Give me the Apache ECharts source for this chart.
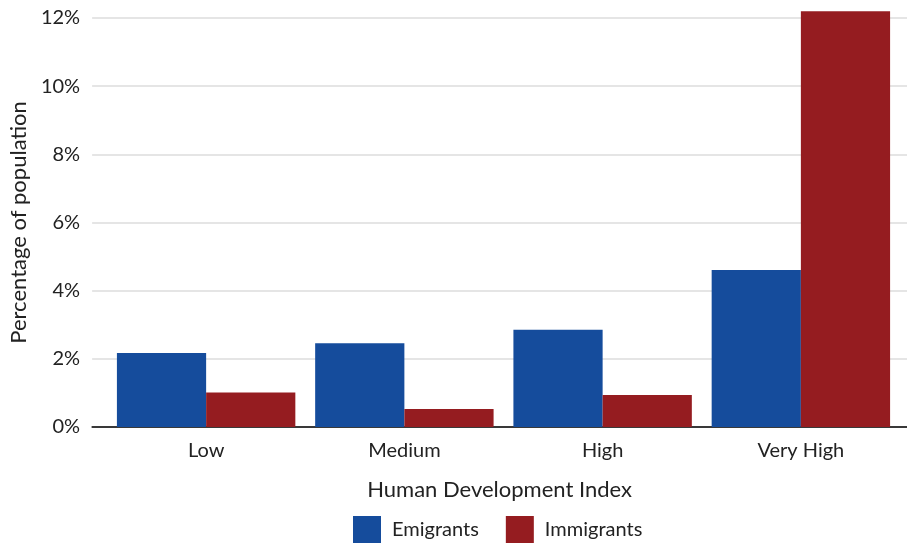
<!DOCTYPE html>
<html>
<head>
<meta charset="utf-8">
<script src="https://cdn.jsdelivr.net/npm/echarts@6/dist/echarts.min.js"></script>
<style>html,body{margin:0;padding:0;background:#fff}#c{width:907px;height:545px}</style>
</head>
<body>
<div id="c"></div>
<script>
const categories = ['Low', 'Medium', 'High', 'Very High'];
const emigrants = [2.17, 2.46, 2.85, 4.61];
const immigrants = [1.01, 0.53, 0.94, 12.2];
const yTicks = [0, 2, 4, 6, 8, 10, 12];

const FONT = 'Lato';
const TXT = '#222';
const chart = echarts.init(document.getElementById('c'));
chart.setOption({
  animation: false,
  textStyle: { fontFamily: FONT },
  grid: [
    { left: 87, right: 0, top: 18, bottom: 118 },
    { left: 107, right: 7, top: 18, bottom: 118 }
  ],
  legend: {
    top: 516, left: 353, padding: 0,
    icon: 'rect',
    itemWidth: 28, itemHeight: 27, itemGap: 27,
    textStyle: { fontFamily: FONT, fontSize: 20, color: TXT, padding: [0, 0, 0, 6] },
    data: ['Emigrants', 'Immigrants']
  },
  xAxis: [
    { gridIndex: 0, type: 'category', data: categories, axisLabel: { show: false }, axisTick: { show: false },
      axisLine: { lineStyle: { color: '#000', width: 1.5 } }, splitLine: { show: false },
      name: 'Human Development Index', nameLocation: 'middle', nameGap: 52,
      nameTextStyle: { fontFamily: FONT, fontSize: 22, color: TXT } },
    { gridIndex: 1, type: 'category', data: categories,
      axisLine: { show: false },
      axisTick: { alignWithLabel: true, length: 6, lineStyle: { color: '#000' } },
      axisLabel: { fontFamily: FONT, fontSize: 20, color: TXT, margin: 14 } }
  ],
  yAxis: [
    { gridIndex: 0, type: 'value', min: yTicks[0], max: yTicks[yTicks.length - 1], interval: 2,
      axisLine: { show: false }, axisTick: { show: false },
      axisLabel: { formatter: '{value}%', fontFamily: FONT, fontSize: 20, color: TXT, margin: 12 },
      splitLine: { lineStyle: { color: '#dcdcdc', width: 1.5 } },
      name: 'Percentage of population', nameLocation: 'middle', nameGap: 62,
      nameTextStyle: { fontFamily: FONT, fontSize: 22, color: TXT } },
    { gridIndex: 1, type: 'value', min: yTicks[0], max: yTicks[yTicks.length - 1], interval: 2,
      show: false, splitLine: { show: false } }
  ],
  series: [
    { name: 'Emigrants', type: 'bar', xAxisIndex: 1, yAxisIndex: 1, data: emigrants,
      barGap: '0%', barCategoryGap: '10%', clip: false, itemStyle: { color: '#154c9c' } },
    { name: 'Immigrants', type: 'bar', xAxisIndex: 1, yAxisIndex: 1, data: immigrants,
      barGap: '0%', barCategoryGap: '10%', clip: false, itemStyle: { color: '#951c20' } }
  ]
});
</script>
</body>
</html>
